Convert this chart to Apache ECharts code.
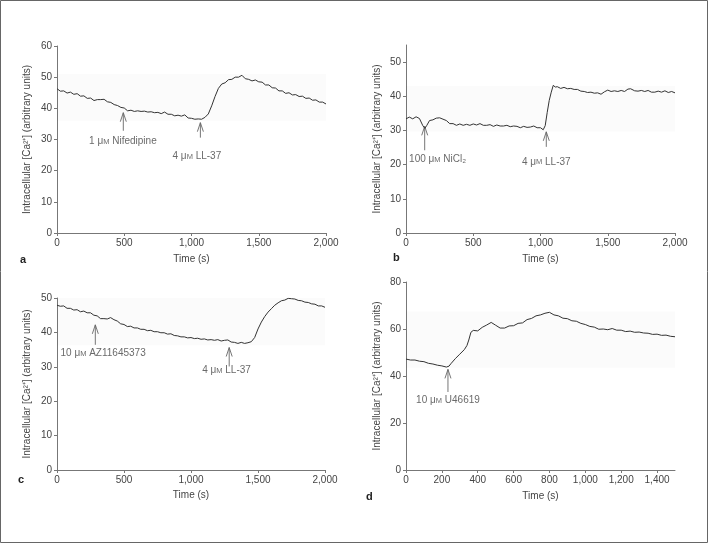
<!DOCTYPE html>
<html>
<head>
<meta charset="utf-8">
<script src="https://cdn.jsdelivr.net/npm/echarts@6/dist/echarts.min.js"></script>
<style>html,body{margin:0;padding:0;background:#fff}#c{width:708px;height:543px}</style>
</head>
<body>
<div id="c"></div>
<script>
// ---- data ----
const seriesA = [[0,46.3],[25,45.5],[50,45.6],[75,44.9],[100,45.2],[125,44.5],[150,44.7],[175,43.9],[200,44.0],[225,43.2],[250,43.3],[275,42.5],[300,42.8],[325,42.8],[350,42.9],[375,42.1],[400,41.9],[425,41.2],[450,40.9],[475,40.3],[500,40.1],[525,39.2],[550,39.4],[575,39.0],[600,39.2],[625,39.0],[650,39.1],[675,38.8],[700,38.9],[725,38.6],[750,38.7],[775,38.3],[800,38.8],[825,38.1],[850,38.1],[875,37.6],[900,37.8],[925,37.5],[950,37.9],[975,36.9],[1000,36.8],[1025,36.5],[1050,36.6],[1075,36.5],[1100,37.1],[1125,38.2],[1150,40.8],[1175,43.8],[1200,46.4],[1225,47.8],[1250,48.2],[1275,49.2],[1300,49.3],[1325,50.0],[1350,50.0],[1375,50.6],[1400,49.5],[1425,49.3],[1450,48.8],[1475,49.1],[1500,48.5],[1525,48.4],[1550,47.5],[1575,47.5],[1600,46.6],[1625,46.5],[1650,45.6],[1675,45.6],[1700,44.8],[1725,45.0],[1750,44.3],[1775,44.4],[1800,43.8],[1825,43.9],[1850,43.2],[1875,43.3],[1900,42.6],[1925,42.7],[1950,42.0],[1975,42.0],[2000,41.4]];
const seriesB = [[0,33.4],[25,33.9],[50,33.4],[75,34.0],[100,33.5],[110,33.2],[125,31.4],[140,30.6],[155,31.5],[175,32.9],[200,33.1],[225,33.6],[250,33.7],[260,34.1],[275,33.3],[300,32.9],[325,32.0],[350,32.0],[375,31.5],[400,31.9],[425,31.5],[450,31.8],[475,31.5],[500,31.9],[525,31.6],[550,32.0],[560,32.2],[575,31.5],[600,31.5],[625,31.7],[650,31.2],[675,31.6],[700,31.3],[725,31.3],[750,31.5],[775,31.1],[800,31.3],[825,31.2],[850,30.8],[875,31.2],[900,30.9],[925,31.0],[950,31.3],[975,30.8],[1000,30.8],[1020,30.2],[1035,31.4],[1050,35.3],[1065,38.8],[1080,41.2],[1095,43.2],[1110,42.7],[1125,42.8],[1150,42.3],[1175,42.6],[1200,42.2],[1225,42.3],[1250,42.0],[1275,42.0],[1300,41.5],[1325,41.4],[1350,41.1],[1375,41.2],[1400,40.9],[1425,41.0],[1450,40.6],[1475,41.3],[1500,41.8],[1525,41.4],[1550,41.6],[1575,41.4],[1600,41.7],[1625,41.4],[1650,42.1],[1670,42.2],[1700,41.6],[1725,41.5],[1750,41.7],[1775,41.4],[1800,41.7],[1825,41.2],[1850,41.2],[1875,41.5],[1900,41.2],[1925,41.6],[1950,41.1],[1975,41.4],[2000,41.0]];
const seriesC = [[0,47.9],[25,47.6],[50,47.7],[75,47.0],[100,47.0],[125,46.5],[150,46.6],[175,46.0],[200,46.2],[225,45.7],[250,45.7],[275,45.0],[300,44.8],[325,44.0],[350,44.0],[375,43.9],[400,44.3],[425,43.7],[450,43.3],[475,42.5],[500,42.3],[525,41.7],[550,41.8],[575,41.3],[600,41.3],[625,40.9],[650,40.9],[675,40.5],[700,40.6],[725,40.2],[750,40.2],[775,39.9],[800,39.9],[825,39.5],[850,39.6],[875,39.1],[900,39.0],[925,38.7],[950,38.7],[975,38.4],[1000,38.5],[1025,38.2],[1050,38.3],[1075,38.0],[1100,38.1],[1125,37.8],[1150,37.9],[1175,37.7],[1200,37.9],[1225,37.5],[1250,37.7],[1275,37.8],[1300,37.2],[1325,37.1],[1350,36.8],[1375,37.1],[1400,36.8],[1425,37.0],[1450,37.3],[1475,38.5],[1500,41.0],[1525,43.0],[1550,44.6],[1575,45.9],[1600,46.9],[1625,47.9],[1650,48.6],[1675,49.2],[1700,49.4],[1725,49.9],[1750,49.8],[1775,49.7],[1800,49.3],[1825,49.2],[1850,48.8],[1875,48.7],[1900,48.3],[1925,48.2],[1950,47.7],[1975,47.7],[2000,47.3]];
const seriesD = [[0,47.2],[25,46.8],[50,46.8],[75,46.3],[100,46.1],[125,45.4],[150,45.1],[175,44.6],[200,44.3],[225,43.8],[240,44.2],[250,45.2],[275,47.4],[300,49.3],[325,51.2],[340,53.0],[350,55.3],[362,58.6],[375,59.4],[400,59.2],[425,60.7],[450,61.7],[475,62.8],[500,61.6],[525,60.4],[550,60.4],[575,61.3],[600,61.4],[625,62.4],[650,62.6],[675,64.0],[700,64.5],[725,65.6],[750,66.0],[775,66.7],[800,67.1],[825,66.0],[850,65.6],[875,64.6],[900,64.4],[925,63.5],[950,63.3],[975,62.4],[1000,61.9],[1025,61.1],[1050,60.8],[1075,59.9],[1100,60.0],[1125,59.7],[1150,60.2],[1175,59.5],[1200,59.5],[1225,58.9],[1250,59.1],[1275,58.6],[1300,58.7],[1325,58.3],[1350,58.2],[1375,57.7],[1400,57.8],[1425,57.3],[1450,57.4],[1475,56.9],[1500,56.7]];

// tick values
const xTicks2000 = [0, 500, 1000, 1500, 2000];
const xTicks1500 = [0, 200, 400, 600, 800, 1000, 1200, 1400];
const yTicksA = [0, 10, 20, 30, 40, 50, 60];
const yTicksB = [0, 10, 20, 30, 40, 50];
const yTicksC = [0, 10, 20, 30, 40, 50];
const yTicksD = [0, 20, 40, 60, 80];

// shaded bands [x0, x1, y0, y1]
const bandA = [0, 2000, 36, 51];
const bandB = [0, 2000, 29.7, 43];
const bandC = [0, 2000, 36.3, 50];
const bandD = [0, 1500, 43.5, 67.5];

// annotations: arrow x, tip y, tail y, label y, label x, label text
const annA = [[493, 38.6, 32.8, 29.3, 490, '1 μ{sm|M} Nifedipine'], [1066, 35.4, 30.6, 24.5, 1040, '4 μ{sm|M} LL-37']];
const annB = [[139, 31.2, 24.2, 21.6, 235, '100 μ{sm|M} NiCl₂'], [1043, 29.6, 25.2, 20.8, 1043, '4 μ{sm|M} LL-37']];
const annC = [[286, 42.2, 36.4, 33.8, 344, '10 μ{sm|M} AZ11645373'], [1285, 35.6, 30.1, 29.0, 1265, '4 μ{sm|M} LL-37']];
const annD = [[234, 42.8, 33.2, 29.7, 234, '10 μ{sm|M} U46619']];

const FONT = 'Liberation Sans';
const TXT = '#444';
const AX = '#777';

const grids = [
  {left: 57, top: 46, width: 269, height: 187},
  {left: 406, top: 45, width: 269, height: 188},
  {left: 57, top: 298, width: 268, height: 172},
  {left: 406, top: 282, width: 269, height: 188}
];

function fmt(v) { return String(v).replace(/\B(?=(\d{3})+(?!\d))/g, ','); }

function xAxis(idx, max, ticks, gap) {
  return {
    type: 'value', gridIndex: idx, min: 0, max: max,
    name: 'Time (s)', nameLocation: 'middle', nameGap: gap,
    nameTextStyle: {color: TXT, fontSize: 10, fontFamily: FONT},
    axisLine: {lineStyle: {color: AX, width: 1}},
    axisTick: {length: 3, lineStyle: {color: AX}, customValues: ticks},
    axisLabel: {color: TXT, fontSize: 10, fontFamily: FONT, margin: 5, customValues: ticks, formatter: fmt},
    splitLine: {show: false}
  };
}
function yAxis(idx, max, ticks, gap) {
  return {
    type: 'value', gridIndex: idx, min: 0, max: max,
    name: 'Intracellular [Ca²⁺] (arbitrary units)', nameLocation: 'middle', nameGap: gap,
    nameTextStyle: {color: TXT, fontSize: 10, fontFamily: FONT},
    axisLine: {show: true, lineStyle: {color: AX, width: 1}},
    axisTick: {show: true, length: 3, lineStyle: {color: AX}, customValues: ticks},
    axisLabel: {color: TXT, fontSize: 10, fontFamily: FONT, margin: 5, customValues: ticks, formatter: fmt},
    splitLine: {show: false}
  };
}

function lineSeries(idx, data, band) {
  return {
    type: 'line', xAxisIndex: idx, yAxisIndex: idx, data: data,
    showSymbol: false, silent: true, animation: false,
    lineStyle: {color: '#333', width: 1},
    markArea: {silent: true, itemStyle: {color: 'rgba(0,0,0,0.015)'},
      data: [[{coord: [band[0], band[2]]}, {coord: [band[1], band[3]]}]]}
  };
}

function arrowSeries(idx, ann) {
  return {
    type: 'custom', xAxisIndex: idx, yAxisIndex: idx, silent: true, animation: false,
    data: ann.map(a => [a[0], a[1], a[2]]),
    renderItem: function (params, api) {
      const tip = api.coord([api.value(0), api.value(1)]);
      const tail = api.coord([api.value(0), api.value(2)]);
      const st = {stroke: '#666', lineWidth: 0.9, fill: null};
      return {type: 'group', children: [
        {type: 'line', shape: {x1: tail[0], y1: tail[1], x2: tip[0], y2: tip[1]}, style: st},
        {type: 'polyline', shape: {points: [[tip[0] - 3, tip[1] + 9], [tip[0], tip[1]], [tip[0] + 3, tip[1] + 9]]}, style: st}
      ]};
    }
  };
}

function labelSeries(idx, ann) {
  return {
    type: 'scatter', xAxisIndex: idx, yAxisIndex: idx, silent: true, animation: false,
    symbolSize: 0,
    data: ann.map(a => ({value: [a[4], a[3]], name: a[5]})),
    label: {show: true, position: 'inside', formatter: p => p.name,
      color: TXT, fontSize: 10, fontFamily: FONT,
      rich: {sm: {fontSize: 7.5, color: TXT, fontFamily: FONT, verticalAlign: 'bottom', padding: [0, 0, 0.5, 0]}}}
  };
}

const chart = echarts.init(document.getElementById('c'), null, {renderer: 'canvas'});
chart.setOption({
  animation: false,
  backgroundColor: '#fff',
  grid: grids,
  xAxis: [xAxis(0, 2000, xTicks2000, 21), xAxis(1, 2000, xTicks2000, 21), xAxis(2, 2000, xTicks2000, 20), xAxis(3, 1500, xTicks1500, 21)],
  yAxis: [yAxis(0, 60, yTicksA, 25), yAxis(1, 55, yTicksB, 24), yAxis(2, 50, yTicksC, 25), yAxis(3, 80, yTicksD, 24)],
  series: [
    lineSeries(0, seriesA, bandA), lineSeries(1, seriesB, bandB), lineSeries(2, seriesC, bandC), lineSeries(3, seriesD, bandD),
    arrowSeries(0, annA), arrowSeries(1, annB), arrowSeries(2, annC), arrowSeries(3, annD),
    labelSeries(0, annA), labelSeries(1, annB), labelSeries(2, annC), labelSeries(3, annD)
  ],
  graphic: [
    {type: 'rect', shape: {x: 0.5, y: 0.5, width: 707, height: 542}, style: {fill: null, stroke: '#666', lineWidth: 1}, silent: true},
    {type: 'text', left: 20, top: 254, style: {text: 'a', font: 'bold 11px ' + FONT, fill: '#222'}},
    {type: 'text', left: 393, top: 252, style: {text: 'b', font: 'bold 11px ' + FONT, fill: '#222'}},
    {type: 'text', left: 18, top: 474, style: {text: 'c', font: 'bold 11px ' + FONT, fill: '#222'}},
    {type: 'text', left: 366, top: 491, style: {text: 'd', font: 'bold 11px ' + FONT, fill: '#222'}}
  ]
});
</script>
</body>
</html>
